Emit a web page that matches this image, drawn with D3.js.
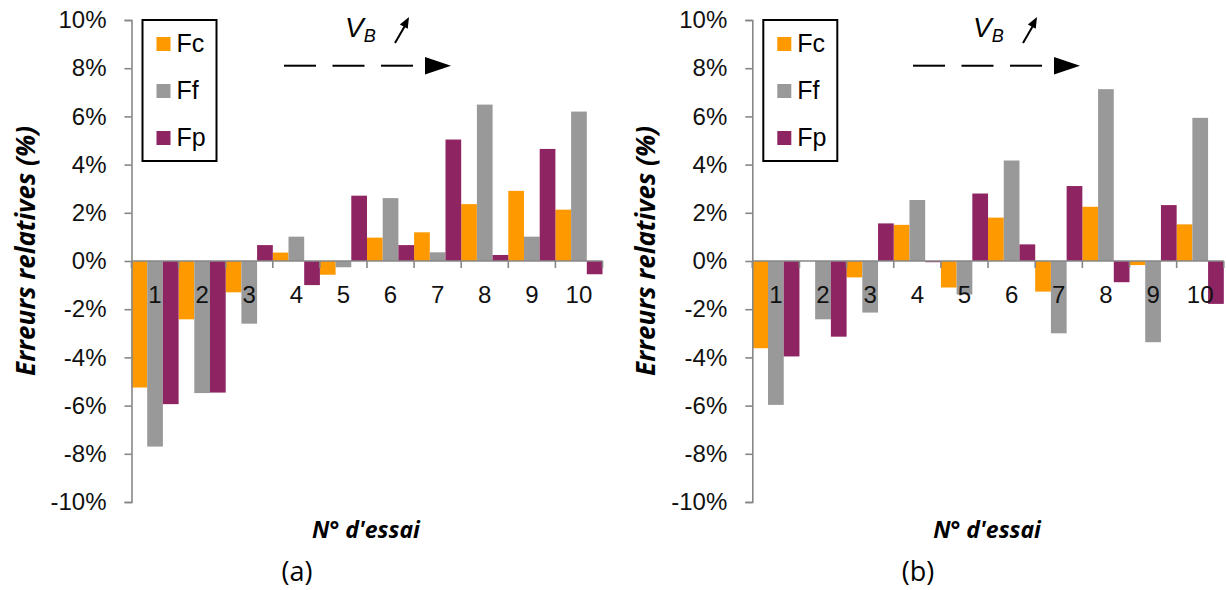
<!DOCTYPE html>
<html><head><meta charset="utf-8">
<script src="https://cdn.jsdelivr.net/npm/d3@7"></script>
<style>body{margin:0;background:#fff}svg{display:block}</style>
</head><body><svg id="c" width="1226" height="590"></svg>
<script>
const categories = ["1","2","3","4","5","6","7","8","9","10"];
const seriesNames = ["Fc","Ff","Fp"];
const seriesColors = ["#FF9900","#999999","#8E2462"];
const fcA = [-5.25,-2.42,-1.3,0.35,-0.57,0.97,1.19,2.36,2.91,2.13];
const ffA = [-7.7,-5.48,-2.6,1.01,-0.26,2.61,0.36,6.49,1.01,6.2];
const fpA = [-5.94,-5.46,0.66,-1.0,2.71,0.66,5.04,0.25,4.65,-0.55];
const fcB = [-3.62,0,-0.68,1.5,-1.1,1.8,-1.27,2.25,-0.17,1.52];
const ffB = [-5.97,-2.42,-2.14,2.53,-1.39,4.17,-3.0,7.13,-3.37,5.94];
const fpB = [-3.96,-3.14,1.56,-0.05,2.8,0.69,3.11,-0.88,2.32,-1.78];
const yTicks = [-10,-8,-6,-4,-2,0,2,4,6,8,10];
const yTitle = "Erreurs relatives (%)";
const xTitle = "N° d'essai";
const panelLabels = ["(a)","(b)"];

const svg = d3.select("#c");
const tickFont = "'Liberation Sans', Arial, sans-serif";
const titleFont = "'Open Sans', sans-serif";

function panel(x0, x1, data, label, annX, dashX) {
  const g = svg.append("g");
  const y = d3.scaleLinear().domain([-10,10]).range([502,20]);
  const x = d3.scaleBand().domain(categories).range([x0,x1]).padding(0);
  const xs = d3.scaleBand().domain(seriesNames).range([0,x.bandwidth()]).padding(0);

  // bars
  seriesNames.forEach((s,si)=>{
    g.append("g").selectAll("rect").data(data[si]).join("rect")
      .attr("x",(d,i)=>x(categories[i])+xs(s))
      .attr("width",xs.bandwidth())
      .attr("y",d=>y(Math.max(0,d)))
      .attr("height",d=>Math.abs(y(d)-y(0)))
      .attr("fill",seriesColors[si]);
  });

  // y axis
  const ya = g.append("g").attr("transform",`translate(${x0},0)`)
    .call(d3.axisLeft(y).tickValues(yTicks).tickSize(7).tickPadding(18).tickFormat(d=>d+"%"));
  ya.select(".domain").attr("stroke","#878787").attr("stroke-width",1.6);
  ya.selectAll(".tick line").attr("stroke","#878787").attr("stroke-width",1.6);
  ya.selectAll("text").attr("font-family",tickFont).attr("font-size",24).attr("fill","#111");

  // x axis line at 0
  g.append("line").attr("x1",x0).attr("x2",x1).attr("y1",y(0)).attr("y2",y(0))
    .attr("stroke","#878787").attr("stroke-width",1.6);
  // tick marks at category boundaries
  const bounds = categories.map(c=>x(c)).concat([x1]);
  g.append("g").selectAll("line").data(bounds).join("line")
    .attr("x1",d=>d).attr("x2",d=>d).attr("y1",y(0)).attr("y2",y(0)+7)
    .attr("stroke","#878787").attr("stroke-width",1.6);
  g.append("g").selectAll("text").data(categories).join("text")
    .attr("x",d=>x(d)+x.bandwidth()/2).attr("y",y(0)+42)
    .attr("text-anchor","middle").attr("font-family",tickFont).attr("font-size",24)
    .attr("fill","#111").text(d=>d);

  // y title
  g.append("text").attr("transform",`translate(${x0-107},251) rotate(-90)`)
    .attr("text-anchor","middle").attr("dominant-baseline","central")
    .attr("font-family",titleFont).attr("font-weight","bold").attr("font-style","italic")
    .attr("font-size",26).attr("fill","#000").text(yTitle);
  // x title
  g.append("text").attr("x",(x0+x1)/2-1).attr("y",538).attr("text-anchor","middle")
    .attr("font-family",titleFont).attr("font-weight","bold").attr("font-style","italic")
    .attr("font-size",23).attr("fill","#000").text(xTitle);
  // panel label
  g.append("text").attr("x",(x0+x1)/2-70).attr("y",581).attr("text-anchor","middle")
    .attr("font-family",titleFont).attr("font-size",27).attr("fill","#000").text(label);

  // legend
  const lx = x0+11;
  g.append("rect").attr("x",lx).attr("y",20).attr("width",74).attr("height",141)
    .attr("fill","#fff").attr("stroke","#000").attr("stroke-width",2);
  seriesNames.forEach((s,i)=>{
    g.append("rect").attr("x",lx+14).attr("y",37+i*47).attr("width",14).attr("height",14)
      .attr("fill",seriesColors[i]);
    g.append("text").attr("x",lx+34).attr("y",52+i*47).attr("font-family",tickFont)
      .attr("font-size",25).attr("fill","#000").text(s);
  });

  // annotation V_B
  const t = g.append("text").attr("x",annX).attr("y",37).attr("font-family",tickFont)
    .attr("font-style","italic").attr("font-size",28).attr("fill","#000");
  t.append("tspan").text("V");
  t.append("tspan").attr("font-size",18).attr("dy",5).attr("dx",0).text("B");
  // small arrow
  const ax0 = annX+50, ay0 = 43, ax1 = annX+64, ay1 = 17;
  g.append("line").attr("x1",ax0).attr("y1",ay0).attr("x2",ax1-3).attr("y2",ay1+7)
    .attr("stroke","#000").attr("stroke-width",2);
  const ang = Math.atan2(ay1-ay0, ax1-ax0);
  const hl = 11, hw = 4.5;
  const bx = ax1 - hl*Math.cos(ang), by = ay1 - hl*Math.sin(ang);
  g.append("path").attr("d",`M${ax1},${ay1}L${bx - hw*Math.sin(ang)},${by + hw*Math.cos(ang)}L${bx + hw*Math.sin(ang)},${by - hw*Math.cos(ang)}Z`).attr("fill","#000");
  // dashed arrow
  [0,1,2].forEach(k=>{
    g.append("line").attr("x1",dashX+k*48.5).attr("x2",dashX+k*48.5+32)
      .attr("y1",65.7).attr("y2",65.7).attr("stroke","#000").attr("stroke-width",2);
  });
  const tx = dashX+141;
  g.append("path").attr("d",`M${tx},57L${tx+26},65.7L${tx},74.5Z`).attr("fill","#000");
}

panel(131.5, 602.5, [fcA,ffA,fpA], panelLabels[0], 345, 284);
panel(752.3, 1223.8, [fcB,ffB,fpB], panelLabels[1], 973, 913);
</script></body></html>
